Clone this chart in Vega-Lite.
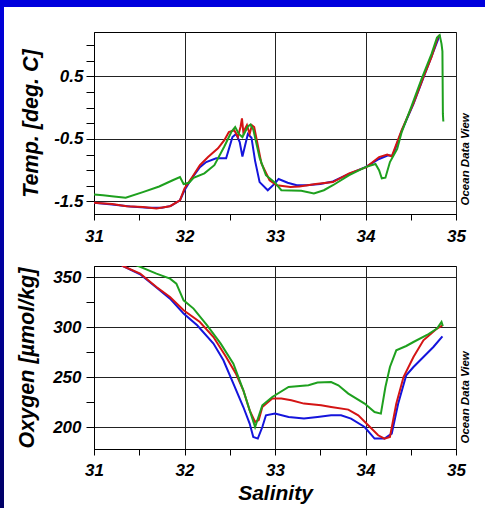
{
  "$schema": "https://vega.github.io/schema/vega-lite/v6.json",
  "padding": 0,
  "background": "white",
  "config": {
    "font": "Liberation Sans",
    "axis": {
      "labelFont": "Liberation Sans", "labelFontWeight": "bold", "labelFontStyle": "italic", "labelFontSize": 17, "labelColor": "black",
      "titleFont": "Liberation Sans", "titleFontWeight": "bold", "titleFontStyle": "italic", "titleFontSize": 21.5, "titleColor": "black",
      "domainColor": "black", "tickColor": "black", "gridColor": "#222222", "gridWidth": 1, "domainWidth": 1, "tickWidth": 1,
      "labelFlush": false, "labelOverlap": false
    }
  },
  "datasets": {
    "temp": [
      {"cast": "blue", "S": 31.0, "T": -1.52}, {"cast": "blue", "S": 31.2, "T": -1.55}, {"cast": "blue", "S": 31.4, "T": -1.58},
      {"cast": "blue", "S": 31.6, "T": -1.6}, {"cast": "blue", "S": 31.75, "T": -1.6}, {"cast": "blue", "S": 31.85, "T": -1.57},
      {"cast": "blue", "S": 31.95, "T": -1.48}, {"cast": "blue", "S": 32.0, "T": -1.32}, {"cast": "blue", "S": 32.08, "T": -1.13},
      {"cast": "blue", "S": 32.17, "T": -0.95}, {"cast": "blue", "S": 32.24, "T": -0.87}, {"cast": "blue", "S": 32.35, "T": -0.81},
      {"cast": "blue", "S": 32.46, "T": -0.81}, {"cast": "blue", "S": 32.53, "T": -0.47}, {"cast": "blue", "S": 32.57, "T": -0.42},
      {"cast": "blue", "S": 32.61, "T": -0.55}, {"cast": "blue", "S": 32.64, "T": -0.78}, {"cast": "blue", "S": 32.67, "T": -0.6},
      {"cast": "blue", "S": 32.7, "T": -0.42}, {"cast": "blue", "S": 32.74, "T": -0.48}, {"cast": "blue", "S": 32.78, "T": -0.85},
      {"cast": "blue", "S": 32.83, "T": -1.19}, {"cast": "blue", "S": 32.92, "T": -1.32}, {"cast": "blue", "S": 33.0, "T": -1.21},
      {"cast": "blue", "S": 33.04, "T": -1.14}, {"cast": "blue", "S": 33.14, "T": -1.2}, {"cast": "blue", "S": 33.24, "T": -1.24},
      {"cast": "blue", "S": 33.35, "T": -1.24}, {"cast": "blue", "S": 33.5, "T": -1.22}, {"cast": "blue", "S": 33.64, "T": -1.18},
      {"cast": "blue", "S": 33.8, "T": -1.07}, {"cast": "blue", "S": 34.0, "T": -0.95}, {"cast": "blue", "S": 34.15, "T": -0.82},
      {"cast": "blue", "S": 34.25, "T": -0.76}, {"cast": "blue", "S": 34.3, "T": -0.77}, {"cast": "blue", "S": 34.4, "T": -0.37},
      {"cast": "blue", "S": 34.53, "T": 0.06}, {"cast": "blue", "S": 34.64, "T": 0.48}, {"cast": "blue", "S": 34.73, "T": 0.82},
      {"cast": "blue", "S": 34.82, "T": 1.16},

      {"cast": "red", "S": 31.0, "T": -1.52}, {"cast": "red", "S": 31.2, "T": -1.54}, {"cast": "red", "S": 31.36, "T": -1.575},
      {"cast": "red", "S": 31.54, "T": -1.59}, {"cast": "red", "S": 31.69, "T": -1.61}, {"cast": "red", "S": 31.84, "T": -1.575},
      {"cast": "red", "S": 31.95, "T": -1.48}, {"cast": "red", "S": 32.0, "T": -1.29}, {"cast": "red", "S": 32.09, "T": -1.1},
      {"cast": "red", "S": 32.17, "T": -0.92}, {"cast": "red", "S": 32.26, "T": -0.79}, {"cast": "red", "S": 32.37, "T": -0.65},
      {"cast": "red", "S": 32.44, "T": -0.52}, {"cast": "red", "S": 32.49, "T": -0.39}, {"cast": "red", "S": 32.55, "T": -0.36},
      {"cast": "red", "S": 32.59, "T": -0.47}, {"cast": "red", "S": 32.62, "T": -0.3}, {"cast": "red", "S": 32.635, "T": -0.17},
      {"cast": "red", "S": 32.65, "T": -0.39}, {"cast": "red", "S": 32.69, "T": -0.28}, {"cast": "red", "S": 32.72, "T": -0.42},
      {"cast": "red", "S": 32.745, "T": -0.28}, {"cast": "red", "S": 32.77, "T": -0.31}, {"cast": "red", "S": 32.85, "T": -0.89},
      {"cast": "red", "S": 32.94, "T": -1.16}, {"cast": "red", "S": 33.02, "T": -1.24}, {"cast": "red", "S": 33.17, "T": -1.27},
      {"cast": "red", "S": 33.27, "T": -1.26}, {"cast": "red", "S": 33.45, "T": -1.22}, {"cast": "red", "S": 33.64, "T": -1.19},
      {"cast": "red", "S": 33.82, "T": -1.05}, {"cast": "red", "S": 34.01, "T": -0.95}, {"cast": "red", "S": 34.15, "T": -0.79},
      {"cast": "red", "S": 34.24, "T": -0.75}, {"cast": "red", "S": 34.29, "T": -0.78}, {"cast": "red", "S": 34.4, "T": -0.36},
      {"cast": "red", "S": 34.53, "T": 0.07}, {"cast": "red", "S": 34.64, "T": 0.49}, {"cast": "red", "S": 34.73, "T": 0.81},
      {"cast": "red", "S": 34.8, "T": 1.13}, {"cast": "red", "S": 34.82, "T": 1.16},

      {"cast": "green", "S": 31.0, "T": -1.39}, {"cast": "green", "S": 31.1, "T": -1.4}, {"cast": "green", "S": 31.22, "T": -1.42},
      {"cast": "green", "S": 31.35, "T": -1.44}, {"cast": "green", "S": 31.54, "T": -1.35}, {"cast": "green", "S": 31.72, "T": -1.26},
      {"cast": "green", "S": 31.87, "T": -1.16}, {"cast": "green", "S": 31.95, "T": -1.11}, {"cast": "green", "S": 31.99, "T": -1.22},
      {"cast": "green", "S": 32.05, "T": -1.2}, {"cast": "green", "S": 32.1, "T": -1.12}, {"cast": "green", "S": 32.22, "T": -1.05},
      {"cast": "green", "S": 32.33, "T": -0.92}, {"cast": "green", "S": 32.44, "T": -0.62}, {"cast": "green", "S": 32.52, "T": -0.38},
      {"cast": "green", "S": 32.56, "T": -0.31}, {"cast": "green", "S": 32.6, "T": -0.42}, {"cast": "green", "S": 32.64, "T": -0.47},
      {"cast": "green", "S": 32.7, "T": -0.3}, {"cast": "green", "S": 32.73, "T": -0.27}, {"cast": "green", "S": 32.76, "T": -0.35},
      {"cast": "green", "S": 32.83, "T": -0.8}, {"cast": "green", "S": 32.9, "T": -1.08}, {"cast": "green", "S": 33.0, "T": -1.2},
      {"cast": "green", "S": 33.07, "T": -1.32}, {"cast": "green", "S": 33.29, "T": -1.33}, {"cast": "green", "S": 33.43, "T": -1.37},
      {"cast": "green", "S": 33.54, "T": -1.32}, {"cast": "green", "S": 33.64, "T": -1.24}, {"cast": "green", "S": 33.82, "T": -1.08},
      {"cast": "green", "S": 34.0, "T": -0.95}, {"cast": "green", "S": 34.11, "T": -0.9}, {"cast": "green", "S": 34.15, "T": -1.0},
      {"cast": "green", "S": 34.18, "T": -1.13}, {"cast": "green", "S": 34.22, "T": -1.12}, {"cast": "green", "S": 34.27, "T": -0.87},
      {"cast": "green", "S": 34.35, "T": -0.66}, {"cast": "green", "S": 34.4, "T": -0.39}, {"cast": "green", "S": 34.51, "T": 0.03},
      {"cast": "green", "S": 34.62, "T": 0.46}, {"cast": "green", "S": 34.73, "T": 0.86}, {"cast": "green", "S": 34.79, "T": 1.12},
      {"cast": "green", "S": 34.82, "T": 1.16}, {"cast": "green", "S": 34.84, "T": 1.02}, {"cast": "green", "S": 34.85, "T": 0.9},
      {"cast": "green", "S": 34.855, "T": -0.1}, {"cast": "green", "S": 34.86, "T": -0.22}
    ],
    "oxy": [
      {"cast": "blue", "S": 31.25, "O": 365}, {"cast": "blue", "S": 31.32, "O": 361}, {"cast": "blue", "S": 31.51, "O": 352.7},
      {"cast": "blue", "S": 31.69, "O": 339.4}, {"cast": "blue", "S": 31.84, "O": 328.4}, {"cast": "blue", "S": 31.99, "O": 313.4},
      {"cast": "blue", "S": 32.14, "O": 301.7}, {"cast": "blue", "S": 32.32, "O": 283.4}, {"cast": "blue", "S": 32.43, "O": 266.7},
      {"cast": "blue", "S": 32.54, "O": 243.4}, {"cast": "blue", "S": 32.65, "O": 220}, {"cast": "blue", "S": 32.72, "O": 203.4},
      {"cast": "blue", "S": 32.76, "O": 190}, {"cast": "blue", "S": 32.81, "O": 188.4}, {"cast": "blue", "S": 32.86, "O": 200},
      {"cast": "blue", "S": 32.9, "O": 211.7}, {"cast": "blue", "S": 33.0, "O": 213.4}, {"cast": "blue", "S": 33.15, "O": 210},
      {"cast": "blue", "S": 33.32, "O": 208.4}, {"cast": "blue", "S": 33.47, "O": 210}, {"cast": "blue", "S": 33.62, "O": 211.7},
      {"cast": "blue", "S": 33.73, "O": 211.7}, {"cast": "blue", "S": 33.84, "O": 208.4}, {"cast": "blue", "S": 33.99, "O": 200},
      {"cast": "blue", "S": 34.1, "O": 188.4}, {"cast": "blue", "S": 34.21, "O": 188.4}, {"cast": "blue", "S": 34.29, "O": 193.4},
      {"cast": "blue", "S": 34.36, "O": 223}, {"cast": "blue", "S": 34.45, "O": 251.7}, {"cast": "blue", "S": 34.53, "O": 260},
      {"cast": "blue", "S": 34.64, "O": 270}, {"cast": "blue", "S": 34.75, "O": 280}, {"cast": "blue", "S": 34.85, "O": 290.7},

      {"cast": "red", "S": 31.25, "O": 365}, {"cast": "red", "S": 31.32, "O": 361}, {"cast": "red", "S": 31.51, "O": 353.4},
      {"cast": "red", "S": 31.69, "O": 340}, {"cast": "red", "S": 31.84, "O": 330}, {"cast": "red", "S": 31.99, "O": 316.7},
      {"cast": "red", "S": 32.17, "O": 305}, {"cast": "red", "S": 32.32, "O": 290}, {"cast": "red", "S": 32.46, "O": 270},
      {"cast": "red", "S": 32.57, "O": 253}, {"cast": "red", "S": 32.65, "O": 236.7}, {"cast": "red", "S": 32.72, "O": 216.7},
      {"cast": "red", "S": 32.78, "O": 205}, {"cast": "red", "S": 32.82, "O": 207}, {"cast": "red", "S": 32.86, "O": 220},
      {"cast": "red", "S": 32.97, "O": 228.4}, {"cast": "red", "S": 33.07, "O": 228.4}, {"cast": "red", "S": 33.18, "O": 226.7},
      {"cast": "red", "S": 33.32, "O": 223.4}, {"cast": "red", "S": 33.51, "O": 221.7}, {"cast": "red", "S": 33.62, "O": 220},
      {"cast": "red", "S": 33.81, "O": 217.4}, {"cast": "red", "S": 33.92, "O": 211.7}, {"cast": "red", "S": 34.03, "O": 201.7},
      {"cast": "red", "S": 34.14, "O": 191.7}, {"cast": "red", "S": 34.21, "O": 188.4}, {"cast": "red", "S": 34.27, "O": 190},
      {"cast": "red", "S": 34.34, "O": 223.4}, {"cast": "red", "S": 34.42, "O": 250}, {"cast": "red", "S": 34.53, "O": 270},
      {"cast": "red", "S": 34.64, "O": 286.7}, {"cast": "red", "S": 34.79, "O": 298.4}, {"cast": "red", "S": 34.85, "O": 301.7},

      {"cast": "green", "S": 31.4, "O": 364}, {"cast": "green", "S": 31.47, "O": 361.7}, {"cast": "green", "S": 31.69, "O": 353.4},
      {"cast": "green", "S": 31.84, "O": 348.4}, {"cast": "green", "S": 31.91, "O": 343.4}, {"cast": "green", "S": 31.99, "O": 326.7},
      {"cast": "green", "S": 32.1, "O": 318.4}, {"cast": "green", "S": 32.25, "O": 301.7}, {"cast": "green", "S": 32.4, "O": 283.4},
      {"cast": "green", "S": 32.54, "O": 263.4}, {"cast": "green", "S": 32.65, "O": 236.7}, {"cast": "green", "S": 32.72, "O": 216.7},
      {"cast": "green", "S": 32.78, "O": 200}, {"cast": "green", "S": 32.86, "O": 221.7}, {"cast": "green", "S": 32.97, "O": 230},
      {"cast": "green", "S": 33.15, "O": 240}, {"cast": "green", "S": 33.37, "O": 241.7}, {"cast": "green", "S": 33.47, "O": 244.4},
      {"cast": "green", "S": 33.62, "O": 245}, {"cast": "green", "S": 33.7, "O": 241.7}, {"cast": "green", "S": 33.81, "O": 233.4},
      {"cast": "green", "S": 33.99, "O": 223.4}, {"cast": "green", "S": 34.1, "O": 215}, {"cast": "green", "S": 34.17, "O": 213.4},
      {"cast": "green", "S": 34.22, "O": 240}, {"cast": "green", "S": 34.27, "O": 260}, {"cast": "green", "S": 34.34, "O": 276.7},
      {"cast": "green", "S": 34.45, "O": 281}, {"cast": "green", "S": 34.53, "O": 285}, {"cast": "green", "S": 34.68, "O": 292},
      {"cast": "green", "S": 34.79, "O": 298.4}, {"cast": "green", "S": 34.84, "O": 305}, {"cast": "green", "S": 34.855, "O": 301}
    ]
  },
  "spacing": 0,
  "bounds": "flush",
  "hconcat": [
    {
      "width": 4, "height": 508,
      "view": {"stroke": null},
      "data": {"values": [{}]},
      "mark": {"type": "rect", "fill": {"gradient": "linear", "x1": 0, "y1": 0, "x2": 0, "y2": 1, "stops": [{"offset": 0, "color": "#0000dd"}, {"offset": 1, "color": "#000066"}]}},
      "encoding": {}
    },
    {
      "spacing": 25,
      "bounds": "flush",
      "vconcat": [
        {
          "width": 481, "height": 7,
          "view": {"stroke": null},
          "data": {"values": [{}]},
          "mark": {"type": "rect", "fill": "#0000dd"},
          "encoding": {}
        },
        {
          "spacing": 89,
          "bounds": "flush",
          "hconcat": [
            {
              "width": 1, "height": 1,
              "view": {"stroke": null},
              "data": {"values": []},
              "mark": {"type": "point", "opacity": 0},
              "encoding": {}
            },
            {
              "spacing": 52,
              "bounds": "flush",
              "vconcat": [
                {
                  "width": 362, "height": 182,
                  "view": {"stroke": "black", "strokeWidth": 1},
                  "data": {"name": "temp"},
                  "layer": [
                    {
                      "mark": {"type": "line", "strokeWidth": 2, "clip": true},
                      "encoding": {
                        "x": {"field": "S", "type": "quantitative",
                          "scale": {"domain": [31, 35], "nice": false, "zero": false},
                          "axis": {"values": [31, 31.5, 32, 32.5, 33, 33.5, 34, 34.5, 35],
                            "labelExpr": "datum.value % 1 == 0 ? format(datum.value, 'd') : ''",
                            "grid": true, "gridOpacity": {"condition": {"test": "datum.value % 1 == 0", "value": 1}, "value": 0},
                            "tickSize": 6, "labelPadding": 8.5, "title": null}},
                        "y": {"field": "T", "type": "quantitative",
                          "scale": {"domain": [-1.7, 1.21], "nice": false, "zero": false},
                          "axis": {"values": [-1.5, -1.25, -1, -0.75, -0.5, -0.25, 0, 0.25, 0.5, 0.75, 1],
                            "labelExpr": "datum.value == 0.5 ? '0.5' : datum.value == -0.5 ? '-0.5' : datum.value == -1.5 ? '-1.5' : ''",
                            "grid": true, "gridOpacity": {"condition": {"test": "datum.value == 0.5 || datum.value == -0.5 || datum.value == -1.5", "value": 1}, "value": 0},
                            "tickSize": 8, "labelPadding": 3, "title": "Temp. [deg. C]", "titlePadding": 11}},
                        "color": {"field": "cast", "type": "nominal",
                          "scale": {"domain": ["blue", "red", "green"], "range": ["#1414dc", "#d41414", "#1ea01e"]},
                          "legend": null}
                      }
                    },
                    {
                      "mark": {"type": "point", "opacity": 0},
                      "encoding": {
                        "y": {"field": "T", "type": "quantitative",
                          "axis": {"orient": "right", "title": "Ocean Data View", "labels": false, "ticks": false, "domain": false, "grid": false,
                            "titleAngle": 270, "titleFontSize": 11.5, "titleAlign": "left", "titleBaseline": "top", "titlePadding": 3, "titleAnchor": "start", "titleY": 173}}
                      }
                    }
                  ],
                  "resolve": {"axis": {"y": "independent"}}
                },
                {
                  "width": 362, "height": 183,
                  "view": {"stroke": "black", "strokeWidth": 1},
                  "data": {"name": "oxy"},
                  "layer": [
                    {
                      "mark": {"type": "line", "strokeWidth": 2, "clip": true},
                      "encoding": {
                        "x": {"field": "S", "type": "quantitative",
                          "scale": {"domain": [31, 35], "nice": false, "zero": false},
                          "axis": {"values": [31, 31.5, 32, 32.5, 33, 33.5, 34, 34.5, 35],
                            "labelExpr": "datum.value % 1 == 0 ? format(datum.value, 'd') : ''",
                            "grid": true, "gridOpacity": {"condition": {"test": "datum.value % 1 == 0", "value": 1}, "value": 0},
                            "tickSize": 6, "labelPadding": 7, "title": "Salinity", "titlePadding": 4, "titleFontSize": 21}},
                        "y": {"field": "O", "type": "quantitative",
                          "scale": {"domain": [178, 361], "nice": false, "zero": false},
                          "axis": {"values": [200, 225, 250, 275, 300, 325, 350],
                            "labelExpr": "datum.value % 50 == 0 ? format(datum.value, 'd') : ''",
                            "grid": true, "gridOpacity": {"condition": {"test": "datum.value % 50 == 0", "value": 1}, "value": 0},
                            "tickSize": 8, "labelPadding": 5, "title": "Oxygen [µmol/kg]", "titlePadding": 14}},
                        "color": {"field": "cast", "type": "nominal",
                          "scale": {"domain": ["blue", "red", "green"], "range": ["#1414dc", "#d41414", "#1ea01e"]},
                          "legend": null}
                      }
                    },
                    {
                      "mark": {"type": "point", "opacity": 0},
                      "encoding": {
                        "y": {"field": "O", "type": "quantitative",
                          "axis": {"orient": "right", "title": "Ocean Data View", "labels": false, "ticks": false, "domain": false, "grid": false,
                            "titleAngle": 270, "titleFontSize": 11.5, "titleAlign": "left", "titleBaseline": "top", "titlePadding": 3, "titleAnchor": "start", "titleY": 177}}
                      }
                    }
                  ],
                  "resolve": {"axis": {"y": "independent"}}
                }
              ]
            }
          ]
        }
      ]
    }
  ]
}
